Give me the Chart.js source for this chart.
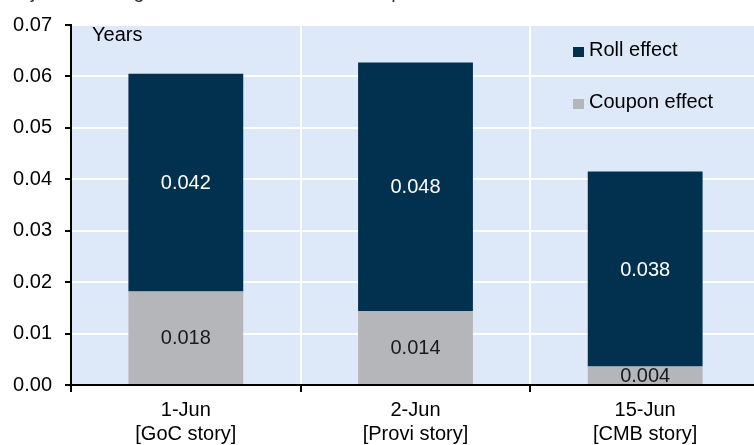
<!DOCTYPE html>
<html>
<head>
<meta charset="utf-8">
<script src="https://cdn.jsdelivr.net/npm/chart.js@4.4.1/dist/chart.umd.min.js"></script>
<style>
    html, body { margin: 0; padding: 0; background: #ffffff; overflow: hidden; }
    #wrap { position: relative; width: 760px; height: 445px; }
    #title {
        position: absolute; left: 0; top: -20px; white-space: nowrap;
        font: 20px "Liberation Sans", Arial, sans-serif; color: #333333;
    }
</style>
</head>
<body>
<div id="wrap">
    <div id="title">Projected change in index duration from coupon and roll effects at month-end</div>
    <canvas id="durationChart" width="760" height="445"></canvas>
</div>
<script>
const categories = [['1-Jun', '[GoC story]'], ['2-Jun', '[Provi story]'], ['15-Jun', '[CMB story]']];
const couponEffect = [0.0182, 0.0144, 0.0036];
const rollEffect = [0.0423, 0.0483, 0.0379];
const yTicks = [0, 0.01, 0.02, 0.03, 0.04, 0.05, 0.06, 0.07];

const FONT = '"Liberation Sans", Arial, sans-serif';
const ROLL_COLOR = '#02314f';
const COUPON_COLOR = '#b5b6b9';
const PLOT_BG = '#dde9f9';

// light blue plot background
const plotBackground = {
    id: 'plotBackground',
    beforeDraw(chart) {
        const { ctx, chartArea } = chart;
        ctx.save();
        ctx.fillStyle = PLOT_BG;
        ctx.fillRect(chartArea.left, chartArea.top, chartArea.right - chartArea.left, chartArea.bottom - chartArea.top);
        ctx.restore();
    },
};

// value labels centred in each segment, plus the "Years" note and the legend
const barLabels = {
    id: 'barLabels',
    afterDatasetsDraw(chart) {
        const { ctx, chartArea } = chart;
        ctx.save();
        ctx.font = '20px ' + FONT;
        ctx.textAlign = 'center';
        ctx.textBaseline = 'middle';
        chart.data.datasets.forEach((ds, i) => {
            const meta = chart.getDatasetMeta(i);
            meta.data.forEach((bar, j) => {
                ctx.fillStyle = i === 0 ? '#1a1a1a' : '#ffffff';
                ctx.fillText(ds.data[j].toFixed(3), bar.x, (bar.y + bar.base) / 2 + 1);
            });
        });

        ctx.textAlign = 'left';
        ctx.fillStyle = '#000000';
        ctx.fillText('Years', chartArea.left + 21, chartArea.top + 10);

        const items = [
            { label: 'Roll effect', color: ROLL_COLOR, y: chartArea.top + 25 },
            { label: 'Coupon effect', color: COUPON_COLOR, y: chartArea.top + 77 },
        ];
        items.forEach((it) => {
            ctx.fillStyle = it.color;
            ctx.fillRect(573, it.y - 3, 11, 10);
            ctx.fillStyle = '#000000';
            ctx.fillText(it.label, 589, it.y);
        });
        ctx.restore();
    },
};

new Chart(document.getElementById('durationChart'), {
    type: 'bar',
    data: {
        labels: categories,
        datasets: [
            {
                label: 'Coupon effect',
                data: couponEffect,
                backgroundColor: COUPON_COLOR,
                categoryPercentage: 1,
                barPercentage: 0.5,
            },
            {
                label: 'Roll effect',
                data: rollEffect,
                backgroundColor: ROLL_COLOR,
                categoryPercentage: 1,
                barPercentage: 0.5,
            },
        ],
    },
    options: {
        responsive: false,
        animation: false,
        layout: {
            padding: { top: 23, right: 0, bottom: 0, left: 0 },
        },
        plugins: {
            legend: { display: false },
            tooltip: { enabled: false },
        },
        scales: {
            x: {
                stacked: true,
                afterFit(scale) { scale.height = 60; },
                grid: {
                    color: '#ffffff',
                    lineWidth: 2,
                    tickColor: '#000000',
                    tickLength: 7,
                    offset: true,
                },
                border: { color: '#000000', width: 2, z: 1 },
                ticks: {
                    color: '#000000',
                    font: { family: FONT, size: 20 },
                    padding: 6,
                    maxRotation: 0,
                },
            },
            y: {
                stacked: true,
                min: 0,
                max: 0.07,
                afterFit(scale) { scale.width = 71; },
                afterBuildTicks(scale) {
                    scale.ticks = yTicks.map((v) => ({ value: v }));
                },
                grid: {
                    color: '#ffffff',
                    lineWidth: 2,
                    tickColor: '#000000',
                    tickLength: 6,
                },
                border: { color: '#000000', width: 2, z: 1 },
                ticks: {
                    color: '#000000',
                    font: { family: FONT, size: 20 },
                    padding: 13,
                    callback: (v) => v.toFixed(2),
                },
            },
        },
    },
    plugins: [plotBackground, barLabels],
});
</script>
</body>
</html>
